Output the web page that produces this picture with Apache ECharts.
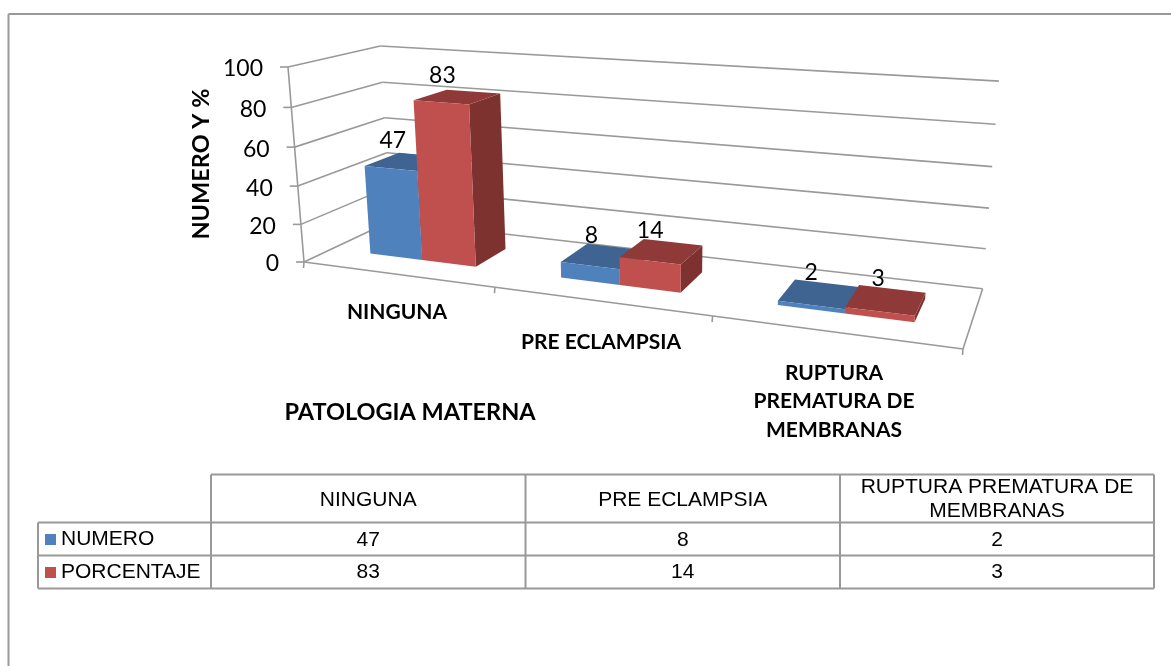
<!DOCTYPE html>
<html>
<head>
<meta charset="utf-8">
<style>html,body{margin:0;padding:0;background:#fff}#chart{width:1171px;height:666px}</style>
<script src="https://cdn.jsdelivr.net/npm/echarts@6/dist/echarts.min.js"></script>
</head>
<body>
<div id="chart"></div>
<script>
// Maternal pathology counts and percentages, shown as perspective columns with a data table.
const categories = ['NINGUNA', 'PRE ECLAMPSIA', 'RUPTURA PREMATURA DE MEMBRANAS'];
const numero = [47, 8, 2];
const porcentaje = [83, 14, 3];
const yTicks = [0, 20, 40, 60, 80, 100];

const axisTitleX = 'PATOLOGIA MATERNA';
const axisTitleY = 'NUMERO Y %';

const BLUE = { front: '#4f81bd', top: '#3f6491', side: '#375a85' };
const RED = { front: '#c0504d', top: '#8f3a38', side: '#7d3230' };
const LINE = '#999999';
const DARK = '#000';
const CALIBRI = 'Lato, Carlito, sans-serif';
const ARIAL = '"Liberation Sans", Arial, sans-serif';

// Flat helper grid: the axes turn data into a unit box that is then projected.
const GRID = { left: 100, top: 100, width: 600, height: 300 };

// Projective camera: origin plus the three box edges with their homogeneous weights.
const O = [304, 262], U = [963, 349], D = [391, 221], V = [288, 67];
const WU = 0.816, WD = 1.12, WV = 0.956;

function project(u, d, v) {
  const w = 1 + u * (WU - 1) + d * (WD - 1) + v * (WV - 1);
  return [0, 1].map(i =>
    (O[i] + u * (WU * U[i] - O[i]) + d * (WD * D[i] - O[i]) + v * (WV * V[i] - O[i])) / w);
}

// Unit-box coordinates from the category and value scales.
function toUnit(api, catIndex, val) {
  const p = api.coord([catIndex, val]);
  return { u: (p[0] - GRID.left) / GRID.width, v: (GRID.top + GRID.height - p[1]) / GRID.height };
}

const poly = (points, fill) => ({ type: 'polygon', shape: { points }, style: { fill, stroke: null } });
const seg = (a, b, width) => ({
  type: 'line', shape: { x1: a[0], y1: a[1], x2: b[0], y2: b[1] },
  style: { stroke: LINE, lineWidth: width || 1.6 }
});
const txt = (text, x, y, font, extra) => ({
  type: 'text', z2: 50,
  style: Object.assign({ text, x, y, font, fill: DARK, textAlign: 'center', textVerticalAlign: 'middle' }, extra || {})
});

const BAR_W = 0.0947, DEPTH0 = 0.3, DEPTH1 = 0.7;

// One 3D column: side, top and front faces plus its value above.
function columnRenderer(colors, slot) {
  return function (params, api) {
    const idx = api.value(0), val = api.value(1);
    const c = toUnit(api, idx, val);
    const u0 = c.u + (slot === 0 ? -BAR_W : 0), u1 = u0 + BAR_W;
    const vBase = 0, vTop = c.v;
    const p = project;
    const a = p(u0, DEPTH0, vBase), b = p(u1, DEPTH0, vBase), e = p(u1, DEPTH0, vTop), f = p(u0, DEPTH0, vTop);
    const g = p(u0, DEPTH1, vTop), h = p(u1, DEPTH1, vTop), k = p(u1, DEPTH1, vBase);
    const anchor = p((u0 + u1) / 2, 0.5, vTop);
    return {
      type: 'group',
      children: [
        poly([b, k, h, e], colors.side),
        poly([f, e, h, g], colors.top),
        poly([a, b, e, f], colors.front),
        txt(String(val), anchor[0] - 17 + 11 * c.u, anchor[1] - 21, '23px ' + CALIBRI)
      ]
    };
  };
}

// Back wall, side wall, floor, ticks and the value-axis numbers.
function wallsRenderer(params, api) {
  const children = [];
  yTicks.forEach(t => {
    const v = toUnit(api, 0, t).v;
    const front = project(0, 0, v), back = project(0, 1, v), right = project(1, 1, v);
    children.push(seg(front, back), seg(back, right));
    children.push(seg([front[0] - 8, front[1]], front));
    children.push(txt(String(t), front[0] - 25, front[1] + 2, '23px ' + CALIBRI, { textAlign: 'right' }));
  });
  children.push(seg(project(0, 0, 0), project(0, 0, 1)));
  children.push(seg(project(0, 0, 0), project(1, 0, 0)));
  children.push(seg(project(1, 0, 0), project(1, 1, 0)));
  categories.forEach((_, i) => {
    const left = project(i / categories.length, 0, 0);
    children.push(seg(left, [left[0] - 0.5, left[1] + 6]));
  });
  const last = project(1, 0, 0);
  children.push(seg(last, [last[0] - 0.5, last[1] + 6]));
  return { type: 'group', children };
}

// Data table, wrapped axis labels and axis titles, built from the same arrays.
function staticGraphics() {
  const els = [];
  const line = (x1, y1, x2, y2) => els.push({
    type: 'line', shape: { x1, y1, x2, y2 }, style: { stroke: LINE, lineWidth: 2 }, silent: true
  });
  const text = (t, x, y, font, extra) => els.push({
    type: 'text', silent: true,
    style: Object.assign({ text: t, x, y, font, fill: DARK, textAlign: 'center', textVerticalAlign: 'middle' }, extra || {})
  });

  // Outer frame
  line(8.5, 14, 1171, 14);
  line(8.5, 14, 8.5, 666);

  // Table rules
  const cols = [211, 525.5, 840, 1154];
  const rows = [474.5, 522.5, 555.5, 588.5];
  line(cols[0], rows[0], cols[3], rows[0]);
  line(38, rows[1], cols[3], rows[1]);
  line(38, rows[2], cols[3], rows[2]);
  line(38, rows[3], cols[3], rows[3]);
  line(38, rows[1], 38, rows[3]);
  cols.forEach(x => line(x, rows[0], x, rows[3]));

  const tableFont = '21px ' + ARIAL;
  const headers = [[categories[0]], [categories[1]], ['RUPTURA PREMATURA DE', 'MEMBRANAS']];
  headers.forEach((lines, i) => {
    const cx = (cols[i] + cols[i + 1]) / 2;
    if (lines.length === 1) text(lines[0], cx, 500, tableFont);
    else lines.forEach((l, j) => text(l, cx, 487 + j * 24, tableFont));
    text(String(numero[i]), cx, 540.5, tableFont);
    text(String(porcentaje[i]), cx, 572.5, tableFont);
  });

  // Category labels under the floor
  const catFont = 'bold 21px ' + CALIBRI;
  text(categories[0], 397, 312, catFont);
  text(categories[1], 601, 342, catFont);
  ['RUPTURA', 'PREMATURA DE', 'MEMBRANAS'].forEach((l, j) => text(l, 834, 373 + j * 28.5, catFont));

  // Axis titles
  text(axisTitleX, 410, 412, 'bold 23.5px ' + CALIBRI);
  els.push({
    type: 'text', silent: true, x: 201, y: 164, rotation: Math.PI / 2,
    style: { text: axisTitleY, x: 0, y: 0, font: 'bold 23.5px ' + CALIBRI, fill: DARK, textAlign: 'center', textVerticalAlign: 'middle' }
  });
  return els;
}

const chart = echarts.init(document.getElementById('chart'), null, { renderer: 'canvas' });
chart.setOption({
  animation: false,
  backgroundColor: '#fff',
  grid: Object.assign({ show: false }, GRID),
  xAxis: { type: 'category', data: categories, show: false },
  yAxis: { type: 'value', min: 0, max: 100, interval: 20, show: false },
  legend: {
    orient: 'vertical', left: 40, top: 524, itemWidth: 11, itemHeight: 11, itemGap: 12,
    icon: 'rect', selectedMode: false,
    textStyle: { fontFamily: ARIAL, fontSize: 21, color: DARK },
    data: ['NUMERO', 'PORCENTAJE']
  },
  graphic: { elements: staticGraphics() },
  series: [
    {
      type: 'custom', name: 'walls', silent: true, renderItem: wallsRenderer, clip: false,
      data: [[0, 0]], encode: { x: 0, y: 1 }
    },
    {
      type: 'custom', name: 'NUMERO', itemStyle: { color: BLUE.front }, clip: false,
      renderItem: columnRenderer(BLUE, 0),
      data: numero.map((n, i) => [i, n]), encode: { x: 0, y: 1 }
    },
    {
      type: 'custom', name: 'PORCENTAJE', itemStyle: { color: RED.front }, clip: false,
      renderItem: columnRenderer(RED, 1),
      data: porcentaje.map((n, i) => [i, n]), encode: { x: 0, y: 1 }
    }
  ]
});
</script>
</body>
</html>
